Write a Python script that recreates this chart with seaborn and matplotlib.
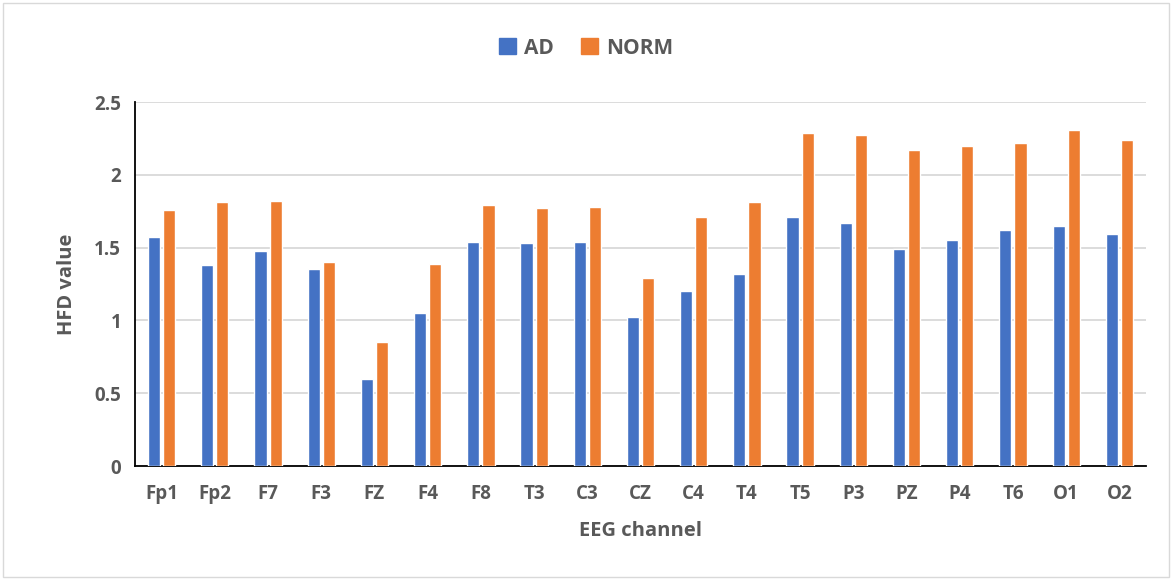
import numpy as np
import pandas as pd
import matplotlib
matplotlib.use("Agg")
import matplotlib.pyplot as plt
import seaborn as sns
from matplotlib.patches import Rectangle

# EEG channels and HFD values
channels = ["Fp1", "Fp2", "F7", "F3", "FZ", "F4", "F8", "T3", "C3", "CZ",
            "C4", "T4", "T5", "P3", "PZ", "P4", "T6", "O1", "O2"]
ad_vals = [1.57, 1.38, 1.48, 1.35, 0.60, 1.05, 1.54, 1.53, 1.54, 1.02,
           1.20, 1.32, 1.71, 1.67, 1.49, 1.55, 1.62, 1.65, 1.59]
norm_vals = [1.76, 1.81, 1.82, 1.40, 0.85, 1.39, 1.79, 1.77, 1.78, 1.29,
             1.71, 1.81, 2.29, 2.27, 2.17, 2.20, 2.22, 2.31, 2.24]
groups = ["AD", "NORM"]
colors = ["#4472C4", "#ED7D31"]

df = pd.DataFrame({
    "channel": channels * 2,
    "group": ["AD"] * len(channels) + ["NORM"] * len(channels),
    "value": ad_vals + norm_vals,
})

sns.set_style("white")
plt.rcParams["font.family"] = ["Open Sans", "DejaVu Sans"]
text_col = "#595959"

fig = plt.figure(figsize=(11.72, 5.8), dpi=100)
ax = fig.add_axes([135 / 1172, 1 - 466 / 580, 1011 / 1172, 364 / 580])

sns.barplot(data=df, x="channel", y="value", hue="group", order=channels,
            hue_order=groups, palette=colors, width=0.57, gap=0.2,
            saturation=1, ax=ax, zorder=3)

ax.set_ylim(0, 2.5)
ax.set_xlim(-0.5, len(channels) - 0.5)
ax.set_yticks(np.arange(0, 2.51, 0.5))
ax.set_yticklabels(["0", "0.5", "1", "1.5", "2", "2.5"])
ax.yaxis.grid(True, color="#D9D9D9", linewidth=1.3, zorder=0)
ax.set_axisbelow(True)

for s in ["top", "right"]:
    ax.spines[s].set_visible(False)
for s in ["left", "bottom"]:
    ax.spines[s].set_color("black")
    ax.spines[s].set_linewidth(1.3)

# Excel-style ticks between categories
ax.set_xticks(np.arange(-0.5, len(channels), 1.0), minor=True)
ax.tick_params(axis="x", which="major", length=0, pad=13)
ax.tick_params(axis="x", which="minor", length=7, width=1.3, color="black",
               direction="out")
ax.tick_params(axis="y", length=7, width=1.3, color="black", direction="out",
               pad=3)
for lab in ax.get_xticklabels() + ax.get_yticklabels():
    lab.set_fontsize(13.5)
    lab.set_fontweight("bold")
    lab.set_color(text_col)

ax.set_xlabel("EEG channel", fontsize=14.5, fontweight="bold", color=text_col,
              labelpad=12)
ax.set_ylabel("HFD value", fontsize=14.5, fontweight="bold", color=text_col,
              labelpad=12)

ax.legend_.remove()
handles = [plt.Rectangle((0, 0), 1, 1, color=c) for c in colors]
fig.legend(handles, groups, loc="center", bbox_to_anchor=(0.5, 1 - 48 / 580),
           ncol=2, frameon=False, handlelength=0.8, handleheight=0.8,
           columnspacing=1.3, handletextpad=0.4,
           prop={"size": 15, "weight": "bold"}, labelcolor=text_col)

fig.patches.append(Rectangle((3 / 1172, 3 / 580), 1 - 6 / 1172, 1 - 6 / 580,
                             transform=fig.transFigure, fill=False,
                             edgecolor="#D9D9D9", linewidth=1))

fig.savefig("out.png", dpi=100)
